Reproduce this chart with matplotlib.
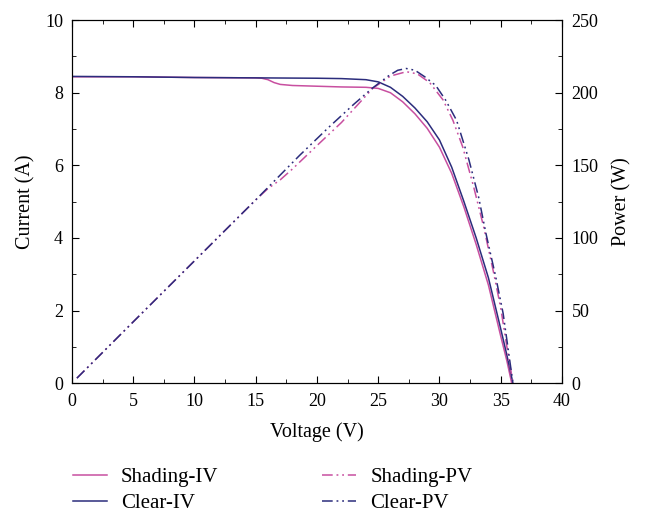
import matplotlib
matplotlib.use("Agg")
import matplotlib.pyplot as plt
from matplotlib.ticker import MultipleLocator

plt.rcParams['font.family'] = ['Liberation Serif', 'DejaVu Serif']

# I-V curves
v_clear_iv = [0, 5, 10, 15, 20, 22, 24, 25, 26, 27, 28, 29, 30, 31, 32, 33, 34, 35, 35.5, 36]
i_clear = [8.45, 8.44, 8.42, 8.41, 8.40, 8.39, 8.36, 8.30, 8.15, 7.90, 7.58, 7.20, 6.70, 5.95,
           5.00, 4.00, 2.90, 1.50, 0.78, 0.0]
v_shade_iv = [0, 5, 10, 15, 15.5, 16, 16.5, 17, 18, 20, 22, 24, 25, 26, 27, 28, 29, 30, 31,
              32, 33, 34, 35, 35.5, 35.9]
i_shade = [8.44, 8.44, 8.42, 8.41, 8.40, 8.36, 8.28, 8.23, 8.20, 8.18, 8.16, 8.15, 8.12, 8.00,
           7.75, 7.42, 7.02, 6.50, 5.78, 4.85, 3.82, 2.70, 1.30, 0.62, 0.0]

# P-V curves
v_clear_pv = [0.4, 5, 10, 15, 18.6, 21, 23, 24.5, 25.9, 26.6, 27.3, 28, 28.8, 29.7, 30.5,
              31.4, 32.4, 33.2, 33.8, 34.6, 35.2, 35.8, 36]
p_clear = [3.4, 42.2, 84.2, 126.2, 157, 176.5, 192, 203, 212, 215.5, 216.7, 215.5, 211, 205,
           195, 181, 154, 128, 103, 73, 48, 12, 0]
v_shade_pv = [0.4, 5, 10, 15, 16, 17, 18, 20, 22, 24.55, 26, 27.3, 28.2, 29.2, 30.3, 31.1,
              31.9, 32.8, 33.6, 34.4, 35, 35.6, 36]
p_shade = [3.4, 42.2, 84.2, 126.2, 134, 140, 147.5, 163.6, 179.5, 203, 211.5, 214.5, 213, 207,
           195, 181, 162.7, 135, 108, 77, 52, 20, 0]

pink = '#c84fa0'
navy = '#2b2c7c'
dd = (0, (7, 2.5, 1.2, 2.5, 1.2, 2.5))

fig = plt.figure(figsize=(6.45, 5.17), dpi=100)
ax = fig.add_axes([0.1116, 0.259, 0.7596, 0.702])
ax2 = ax.twinx()

l1, = ax.plot(v_shade_iv, i_shade, color=pink, lw=1.1, label='Shading-IV')
l2, = ax.plot(v_clear_iv, i_clear, color=navy, lw=1.1, label='Clear-IV')
l3, = ax2.plot(v_shade_pv, p_shade, color=pink, lw=1.1, ls=dd, label='Shading-PV')
l4, = ax2.plot(v_clear_pv, p_clear, color=navy, lw=1.1, ls=dd, label='Clear-PV')

ax.set_xlim(0, 40)
ax.set_ylim(0, 10)
ax2.set_ylim(0, 250)
ax.xaxis.set_major_locator(MultipleLocator(5))
ax.xaxis.set_minor_locator(MultipleLocator(2.5))
ax.yaxis.set_major_locator(MultipleLocator(2))
ax.yaxis.set_minor_locator(MultipleLocator(1))
ax2.yaxis.set_major_locator(MultipleLocator(50))
ax2.yaxis.set_minor_locator(MultipleLocator(25))

ax.tick_params(which='both', direction='in', top=True, right=False, labelsize=13)
ax.tick_params(which='major', length=5)
ax.tick_params(which='minor', length=3)
ax.tick_params(axis='x', which='major', pad=7)
ax.tick_params(axis='y', which='major', pad=6.5)
ax2.tick_params(which='both', direction='in', labelsize=13)
ax2.tick_params(which='major', length=5, pad=7)
ax2.tick_params(which='minor', length=3)

ax.set_xlabel('Voltage (V)', fontsize=14.5, labelpad=9)
ax.set_ylabel('Current (A)', fontsize=14.5, labelpad=7)
ax2.set_ylabel('Power (W)', fontsize=14.5, labelpad=9.5)

fig.legend(handles=[l1, l2, l3, l4], ncol=2, loc='upper left',
           bbox_to_anchor=(0.1, 0.112), borderaxespad=0, frameon=False, fontsize=15,
           handlelength=1.63, columnspacing=5.0, handletextpad=0.67, labelspacing=0.32)

fig.savefig('out.png', dpi=100)
